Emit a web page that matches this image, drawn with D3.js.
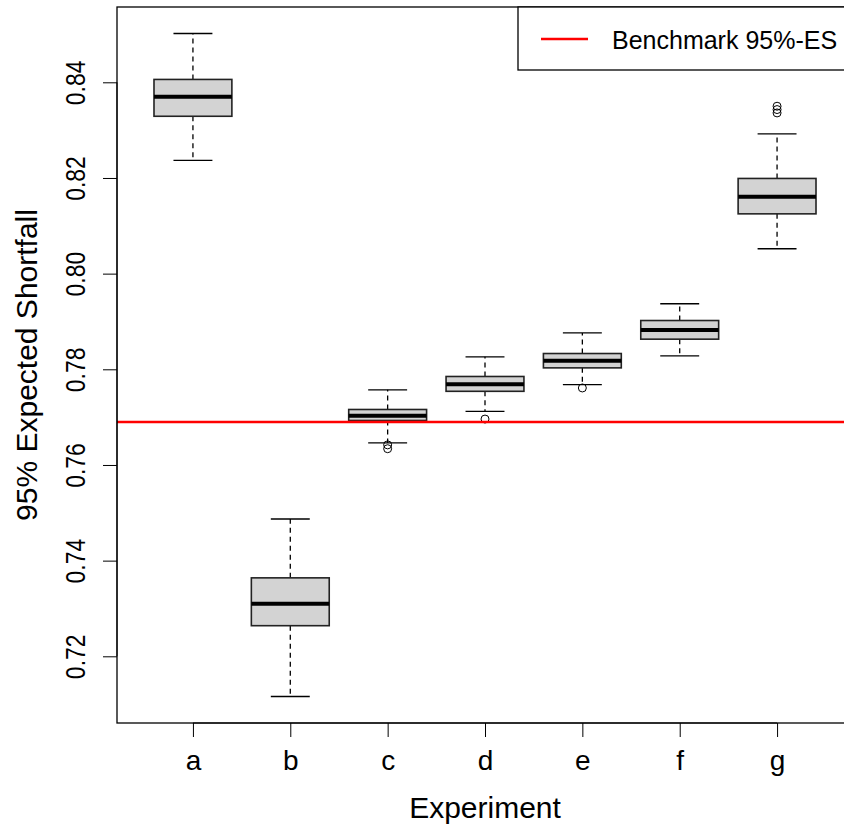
<!DOCTYPE html>
<html>
<head>
<meta charset="utf-8">
<script src="https://cdn.jsdelivr.net/npm/d3@7"></script>
<style>
  body { margin: 0; background: #fff; }
  svg { display: block; font-family: "Liberation Sans", Arial, sans-serif; }
</style>
</head>
<body>
<svg width="844" height="825"></svg>
<script>
// values
var categories = ["a", "b", "c", "d", "e", "f", "g"];
var whiskerLow  = [0.8237, 0.7116, 0.7646, 0.7712, 0.7768, 0.7828, 0.8052];
var q1          = [0.8329, 0.7264, 0.7693, 0.7754, 0.7803, 0.7863, 0.8125];
var median      = [0.8370, 0.7310, 0.7703, 0.7769, 0.7818, 0.7882, 0.8161];
var q3          = [0.8406, 0.7364, 0.7716, 0.7785, 0.7833, 0.7902, 0.8199];
var whiskerHigh = [0.8502, 0.7487, 0.7757, 0.7826, 0.7876, 0.7937, 0.8292];
var outliers = [[], [], [0.7642, 0.7634], [0.7696], [0.7761], [], [0.8350, 0.8343, 0.8336]];
var benchmark = 0.7690;
var yTicks = [0.72, 0.74, 0.76, 0.78, 0.80, 0.82, 0.84];

var svg = d3.select("svg");
// plot region (note: "top" is reserved on window, so use pl* names)
var plLeft = 117, plRight = 853, plTop = 7, plBottom = 723;

// R style: data range extended by 4%
var lo = d3.min(whiskerLow), hi = d3.max(whiskerHigh);
outliers.forEach(function (o) { o.forEach(function (v) { lo = Math.min(lo, v); hi = Math.max(hi, v); }); });
var pad = (hi - lo) * 0.04;
var y = d3.scaleLinear().domain([lo - pad, hi + pad]).range([plBottom, plTop]);
var n = categories.length;
var x = d3.scaleLinear().domain([0.5 - 0.04 * n, n + 0.5 + 0.04 * n]).range([plLeft, plRight]);

var data = categories.map(function (c, i) {
    return { name: c, pos: i + 1, lo: whiskerLow[i], q1: q1[i], med: median[i], q3: q3[i], hi: whiskerHigh[i], out: outliers[i] };
});

var bw = x(1.4) - x(1); // half box width (boxwex 0.8)
var g = svg.append("g");
var box = g.selectAll("g.box").data(data).enter().append("g").attr("class", "box");

// whiskers
box.append("line")
    .attr("x1", function (d) { return x(d.pos); }).attr("x2", function (d) { return x(d.pos); })
    .attr("y1", function (d) { return y(d.q3); }).attr("y2", function (d) { return y(d.hi); })
    .attr("stroke", "#000").attr("stroke-width", 1.3).attr("stroke-dasharray", "5,4");
box.append("line")
    .attr("x1", function (d) { return x(d.pos); }).attr("x2", function (d) { return x(d.pos); })
    .attr("y1", function (d) { return y(d.q1); }).attr("y2", function (d) { return y(d.lo); })
    .attr("stroke", "#000").attr("stroke-width", 1.3).attr("stroke-dasharray", "5,4");
// staples
["hi", "lo"].forEach(function (k) {
    box.append("line")
        .attr("x1", function (d) { return x(d.pos) - bw / 2; }).attr("x2", function (d) { return x(d.pos) + bw / 2; })
        .attr("y1", function (d) { return y(d[k]); }).attr("y2", function (d) { return y(d[k]); })
        .attr("stroke", "#000").attr("stroke-width", 1.3);
});
// box
box.append("rect")
    .attr("x", function (d) { return x(d.pos) - bw; })
    .attr("y", function (d) { return y(d.q3); })
    .attr("width", bw * 2)
    .attr("height", function (d) { return y(d.q1) - y(d.q3); })
    .attr("fill", "#d3d3d3").attr("stroke", "#222").attr("stroke-width", 1.6);
// median
box.append("line")
    .attr("x1", function (d) { return x(d.pos) - bw; }).attr("x2", function (d) { return x(d.pos) + bw; })
    .attr("y1", function (d) { return y(d.med); }).attr("y2", function (d) { return y(d.med); })
    .attr("stroke", "#000").attr("stroke-width", 4);
// outliers
box.selectAll("circle").data(function (d) { return d.out.map(function (v) { return { pos: d.pos, v: v }; }); })
    .enter().append("circle")
    .attr("cx", function (d) { return x(d.pos); })
    .attr("cy", function (d) { return y(d.v); })
    .attr("r", 4).attr("fill", "none").attr("stroke", "#000").attr("stroke-width", 1);

// benchmark line
svg.append("line")
    .attr("x1", plLeft).attr("x2", plRight)
    .attr("y1", y(benchmark)).attr("y2", y(benchmark))
    .attr("stroke", "#ff0000").attr("stroke-width", 2.5);

// frame
svg.append("rect").attr("x", plLeft).attr("y", plTop).attr("width", plRight - plLeft).attr("height", plBottom - plTop)
    .attr("fill", "none").attr("stroke", "#000").attr("stroke-width", 1.3);

// y axis
var yAxis = svg.append("g").attr("transform", "translate(" + plLeft + ",0)")
    .call(d3.axisLeft(y).tickValues(yTicks).tickSize(14).tickPadding(0).tickFormat(d3.format(".2f")));
yAxis.select(".domain").attr("d", "M0," + y(yTicks[0]) + "V" + y(yTicks[yTicks.length - 1]));
yAxis.selectAll("text").remove();
yAxis.selectAll(".tick").append("text")
    .attr("transform", "translate(-32,0) rotate(-90) scale(0.82,1)")
    .attr("text-anchor", "middle")
    .attr("fill", "#000").style("font-size", "28px")
    .text(function (d) { return d3.format(".2f")(d); });

// x axis
var xAxis = svg.append("g").attr("transform", "translate(0," + plBottom + ")")
    .call(d3.axisBottom(x).tickValues(d3.range(1, n + 1)).tickSize(14).tickPadding(0)
        .tickFormat(function (d) { return categories[d - 1]; }));
xAxis.select(".domain").attr("d", "M" + x(1) + ",0H" + x(n));
xAxis.selectAll("text").attr("y", 47).attr("dy", 0).attr("fill", "#000")
    .style("font-size", "28px").style("font-family", "Liberation Sans, Arial, sans-serif");

// titles
svg.append("text").attr("x", (plLeft + plRight) / 2).attr("y", 818)
    .attr("text-anchor", "middle").attr("font-size", 30).text("Experiment");
svg.append("text").attr("transform", "translate(37," + ((plTop + plBottom) / 2) + ") rotate(-90)")
    .attr("text-anchor", "middle").attr("font-size", 30).text("95% Expected Shortfall");

// legend
var lg = svg.append("g");
lg.append("rect").attr("x", 518).attr("y", plTop).attr("width", plRight - 518).attr("height", 63)
    .attr("fill", "#fff").attr("stroke", "#000").attr("stroke-width", 1.3);
lg.append("line").attr("x1", 541).attr("x2", 588).attr("y1", 39).attr("y2", 39)
    .attr("stroke", "#ff0000").attr("stroke-width", 2.5);
lg.append("text").attr("x", 612).attr("y", 49).attr("font-size", 25).text("Benchmark 95%-ES");
</script>
</body>
</html>
